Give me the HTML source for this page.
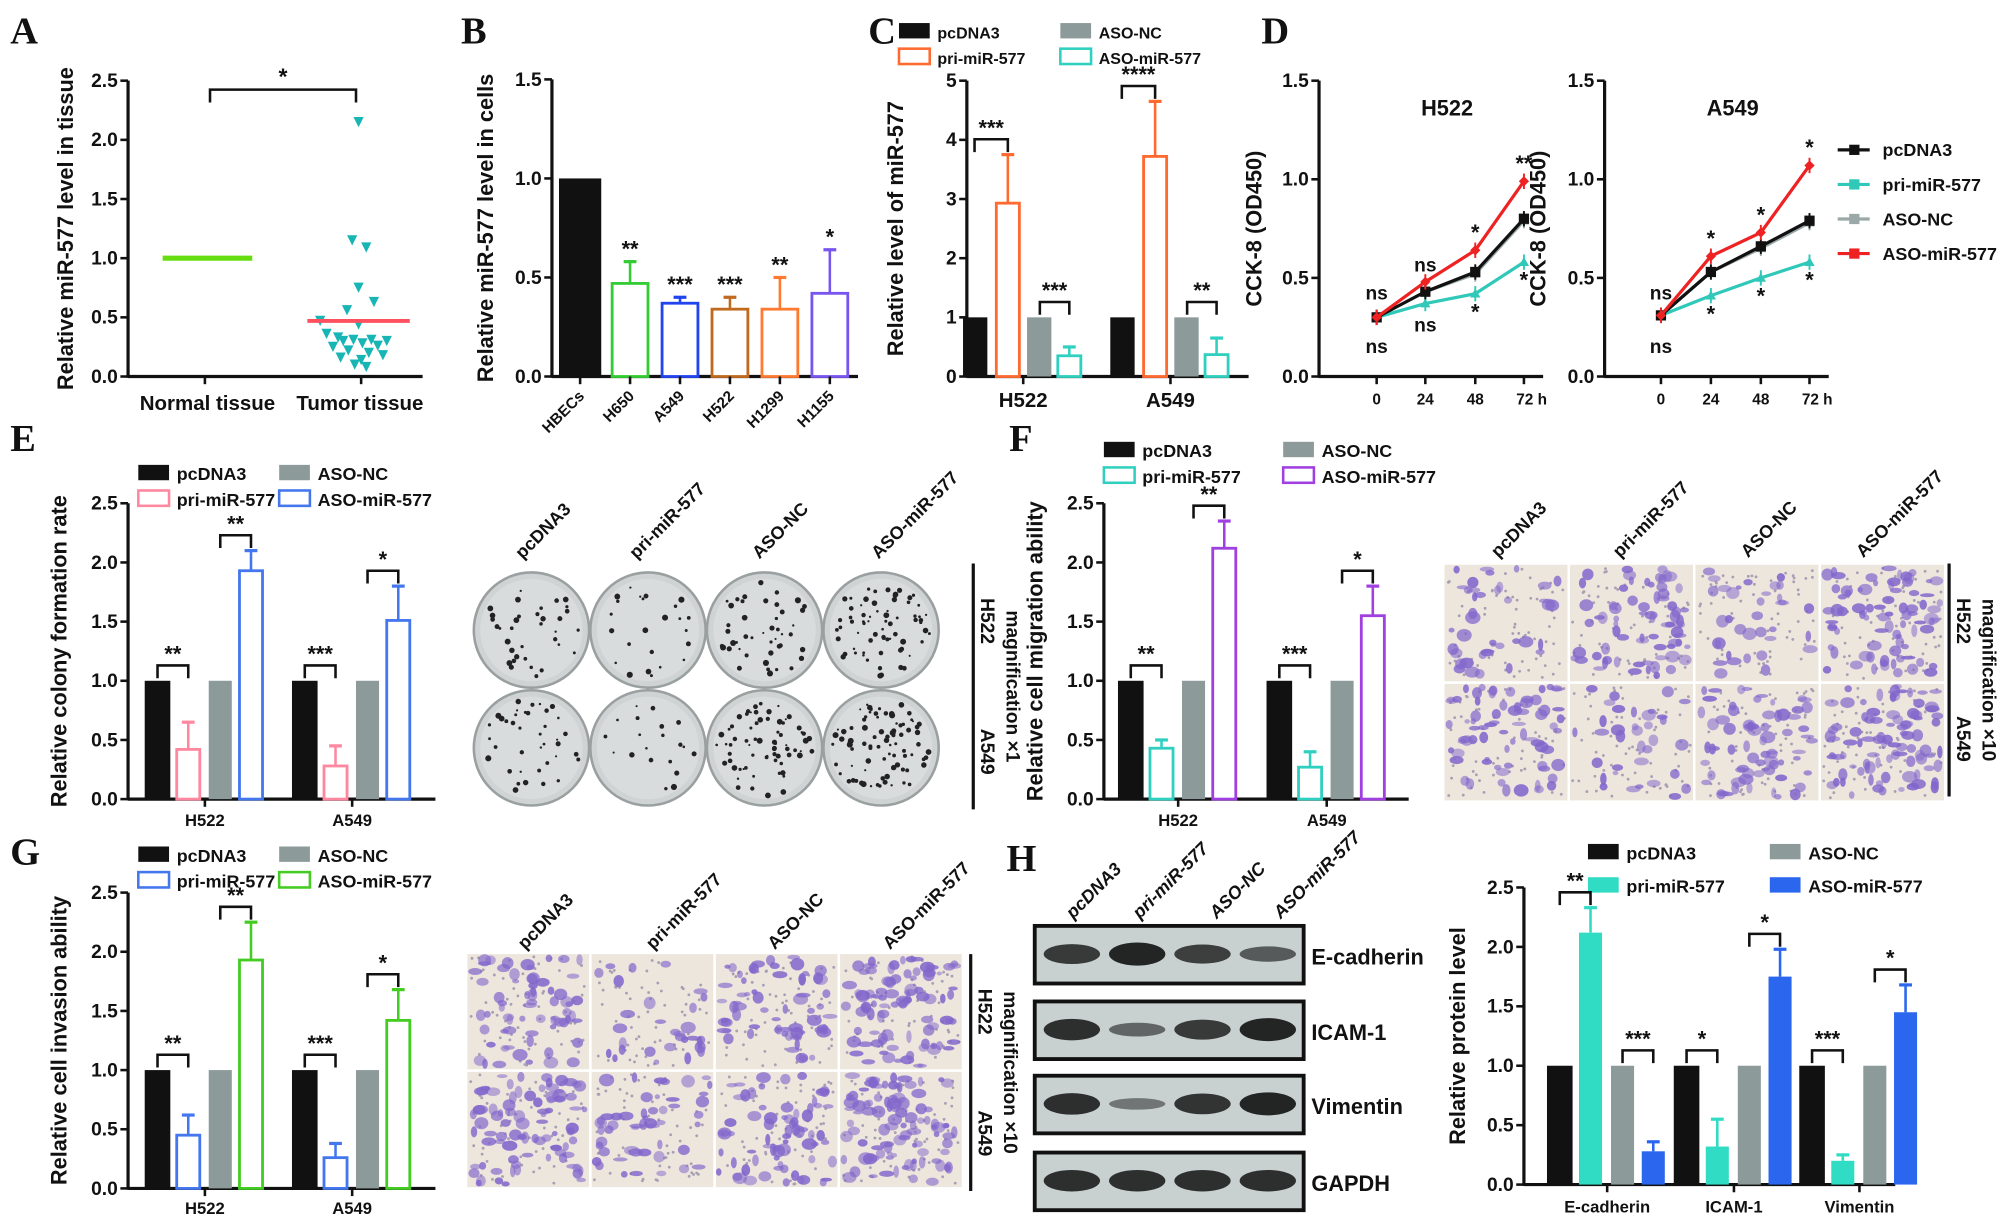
<!DOCTYPE html>
<html><head><meta charset="utf-8"><style>
html,body{margin:0;padding:0;background:#fff;}
svg{display:block;}
text{font-family:"Liberation Sans",sans-serif;font-weight:bold;fill:#111;}
.pl{font-family:"Liberation Serif",serif;font-size:30px;}
</style></head><body>
<svg id="fig" width="2008" height="1223" viewBox="0 0 1568 955" xmlns="http://www.w3.org/2000/svg"></svg>
<script>
// ---------- data ----------
const aTicks=["0.0","0.5","1.0","1.5","2.0","2.5"];
const aNormal=[1.0];
const aTumorMean=[0.47];
const aTumorPts=[2.15,1.15,1.09,0.75,0.63,0.56,0.47,0.44,0.36,0.33,0.31,0.31,0.30,0.30,0.28,0.26,0.25,0.22,0.20,0.18,0.16,0.14,0.10,0.08];
const bCats=["HBECs","H650","A549","H522","H1299","H1155"];
const bVals=[1.0,0.47,0.37,0.34,0.34,0.42];
const bErr=[1.0,0.58,0.40,0.40,0.50,0.64];
const bStars=["","**","***","***","**","*"];
const cCats=["H522","A549"];
const cPc=[1,1],cPri=[2.93,3.72],cPriE=[3.75,4.65],cNc=[1,1],cAso=[0.35,0.37],cAsoE=[0.5,0.65];
const dTimes=["0","24","48","72 h"];
const dH522={pc:[0.30,0.43,0.53,0.80],pri:[0.30,0.37,0.42,0.58],nc:[0.30,0.43,0.52,0.79],aso:[0.30,0.48,0.64,0.99]};
const dA549={pc:[0.31,0.53,0.66,0.79],pri:[0.31,0.41,0.50,0.58],nc:[0.31,0.53,0.65,0.78],aso:[0.31,0.61,0.73,1.07]};
const eCats=["H522","A549"];
const ePri=[0.42,0.28],ePriE=[0.65,0.45],eAso=[1.93,1.51],eAsoE=[2.1,1.8];
const fPri=[0.43,0.27],fPriE=[0.5,0.4],fAso=[2.12,1.55],fAsoE=[2.35,1.8];
const gPri=[0.45,0.26],gPriE=[0.62,0.38],gAso=[1.93,1.42],gAsoE=[2.25,1.68];
const hCats=["E-cadherin","ICAM-1","Vimentin"];
const hPri=[2.12,0.32,0.20],hPriE=[2.33,0.55,0.25],hAso=[0.28,1.75,1.45],hAsoE=[0.36,1.98,1.68];
// ---------- helpers ----------
const NS="http://www.w3.org/2000/svg";const svg=document.getElementById('fig');
function mk(tag,at,p){const e=document.createElementNS(NS,tag);for(const k in at)e.setAttribute(k,at[k]);(p||svg).appendChild(e);return e;}
function tx(x,y,s,size,extra,p){const e=mk('text',Object.assign({x:x,y:y,'font-size':size||14,'text-anchor':'middle'},extra||{}),p);e.textContent=s;return e;}
function lbl(x,y,s){const e=tx(x,y,s,30,{'class':'pl','text-anchor':'start'});}
function scale(y0,yTop,max){return v=>y0-(v/max)*(y0-yTop);}
function yaxis(x0,y0,yTop,x1,ticks,max,title,tx0,name){
  const g=mk('g',{});
  const s=scale(y0,yTop,max);
  mk('line',{x1:x0,y1:y0+1,x2:x0,y2:yTop,stroke:'#111','stroke-width':2.5},g);
  mk('line',{x1:x0,y1:y0,x2:x1,y2:y0,stroke:'#111','stroke-width':2.5},g);
  ticks.forEach((t,i)=>{const v=parseFloat(t);const y=s(v);mk('line',{x1:x0-6,y1:y,x2:x0,y2:y,stroke:'#111','stroke-width':2},g);tx(x0-8,y+5,t,15,{'text-anchor':'end'},g);});
  const tt=tx(tx0,(y0+yTop)/2,title,17,{transform:'rotate(-90 '+tx0+' '+(y0+yTop)/2+')'},g);
  
  return s;}
function bar(x,w,v,s,y0,fill,stroke,name){const r=mk('rect',{x:x,y:s(v),width:w,height:y0-s(v),fill:fill,stroke:stroke,'stroke-width':fill==='none'||fill==='#fff'?2.2:0});return r;}
function err(cx,v,e,s,col){mk('line',{x1:cx,y1:s(v),x2:cx,y2:s(e),stroke:col,'stroke-width':2});mk('line',{x1:cx-5,y1:s(e),x2:cx+5,y2:s(e),stroke:col,'stroke-width':2.5});}
function brk(xa,xb,y,st){mk('path',{d:`M${xa} ${y+10}V${y}H${xb}V${y+10}`,fill:'none',stroke:'#111','stroke-width':2});tx((xa+xb)/2,y-3,st,17);}
function legend(x,y,items,dx,dy,fs){items.forEach((it,i)=>{const xx=x+Math.floor(i/2)*dx,yy=y+(i%2)*dy;const r=mk('rect',{x:xx,y:yy-9,width:24,height:12,fill:it.f,stroke:it.c,'stroke-width':it.f==='#fff'?2:0});const t=tx(xx+30,yy+3,it.n,fs||14,{'text-anchor':'start'});});}
function grouped(name,x0,y0,yTop,xEnd,cats,starts,pri,priE,aso,asoE,priCol,asoCol,filled,title,titleX,stars,labY,bw){
  const s=yaxis(x0,y0,yTop,xEnd,["0.0","0.5","1.0","1.5","2.0","2.5"],2.5,title,titleX,name);
  bw=bw||20;
  cats.forEach((c,i)=>{const gx=starts[i];
    bar(gx,bw,1,s,y0,'#111','#111',name+'-bar-pcdna3-'+c.toLowerCase());
    const px=gx+bw+5;bar(px,bw-2,pri[i],s,y0,filled?priCol:'#fff',priCol,name+'-bar-pri-'+c.toLowerCase());err(px+(bw-2)/2,pri[i],priE[i],s,priCol);
    const nx=px+bw+5;bar(nx,bw-2,1,s,y0,'#8c9a9a','#8c9a9a',name+'-bar-nc-'+c.toLowerCase());
    const ax=nx+bw+4;bar(ax,bw-2,aso[i],s,y0,filled?asoCol:'#fff',asoCol,name+'-bar-aso-'+c.toLowerCase());err(ax+(bw-2)/2,aso[i],asoE[i],s,asoCol);
    brk(gx+bw/2,px+(bw-2)/2,s(Math.max(1,priE[i]))-12,stars[i][0]);
    brk(nx+(bw-2)/2,ax+(bw-2)/2,s(Math.max(1,asoE[i]))-12,stars[i][1]);
    const cx=gx+2*bw+7;mk('line',{x1:cx,y1:y0,x2:cx,y2:y0+6,stroke:'#111','stroke-width':2});
    const t=tx(cx,labY,c,13);
  });return s;}
// ---------- Panel A ----------
lbl(8,34,'A');
{const s=yaxis(100,294,63,330,aTicks,2.5,'Relative miR-577 level in tissue',57,'panel-a');
 mk('line',{x1:160,y1:294,x2:160,y2:300,stroke:'#111','stroke-width':2});mk('line',{x1:282,y1:294,x2:282,y2:300,stroke:'#111','stroke-width':2});
 tx(162,320,'Normal tissue',16);tx(281,320,'Tumor tissue',16);
 const gl=mk('line',{x1:127,x2:197,y1:s(aNormal[0]),y2:s(aNormal[0]),stroke:'#66dd11','stroke-width':4});
 const offs=[0,-5,6,0,12,-9,-30,0,-25,-16,-4,10,22,-12,3,15,-20,-8,8,19,-14,2,-3,6];
 aTumorPts.forEach((v,i)=>{const x=280+offs[i],y=s(v);const p=mk('path',{d:`M${x-4} ${y-4}H${x+4}L${x} ${y+4}Z`,fill:'#18b5b5'});});
 const rl=mk('line',{x1:240,x2:320,y1:s(aTumorMean[0]),y2:s(aTumorMean[0]),stroke:'#ff5060','stroke-width':3});
 brk(164,278,70,'');tx(221,66,'*',18);}
// ---------- Panel B ----------
lbl(360,34,'B');
{const s=yaxis(431,294,62,670,["0.0","0.5","1.0","1.5"],1.5,'Relative miR-577 level in cells',385,'panel-b');
 const cols=['#111','#33cc33','#2244ee','#c06a20','#ff7a30','#7755ee'];
 bCats.forEach((c,i)=>{const cx=453+i*39;const w=i?28:33;
   bar(cx-w/2,w,bVals[i],s,294,i?'#fff':'#111',cols[i],'panel-b-bar-'+c.toLowerCase());
   if(i){err(cx,bVals[i],bErr[i],s,cols[i]);tx(cx,s(bErr[i])-4,bStars[i],17);}
   mk('line',{x1:cx,y1:294,x2:cx,y2:300,stroke:'#111','stroke-width':2});
   const t=tx(cx+4,310,c,12,{'text-anchor':'end',transform:`rotate(-45 ${cx+4} 310)`});});}
// ---------- Panel C ----------
lbl(678,34,'C');
legend(702,27,[{n:'pcDNA3',f:'#111',c:'#111'},{n:'pri-miR-577',f:'#fff',c:'#ff6a30'},{n:'ASO-NC',f:'#8c9a9a',c:'#8c9a9a'},{n:'ASO-miR-577',f:'#fff',c:'#30d0c0'}],126,20,12.5);
{const s=yaxis(755,294,63,975,["0","1","2","3","4","5"],5,'Relative level of miR-577',705,'panel-c');
 const st=[['***','***'],['****','**']];
 cCats.forEach((c,i)=>{const gx=[752,867][i];
  bar(gx,19,cPc[i],s,294,'#111','#111','panel-c-bar-pcdna3-'+c.toLowerCase());
  bar(gx+26,18,cPri[i],s,294,'#fff','#ff6a30','panel-c-bar-pri-'+c.toLowerCase());err(gx+35,cPri[i],cPriE[i],s,'#ff6a30');
  bar(gx+50,19,cNc[i],s,294,'#8c9a9a','#8c9a9a','panel-c-bar-nc-'+c.toLowerCase());
  bar(gx+74,18,cAso[i],s,294,'#fff','#30d0c0','panel-c-bar-aso-'+c.toLowerCase());err(gx+83,cAso[i],cAsoE[i],s,'#30d0c0');
  brk(gx+9,gx+35,s(cPriE[i])-12,st[i][0]);brk(gx+60,gx+83,s(Math.max(1,cAsoE[i]))-12,st[i][1]);
  mk('line',{x1:gx+47,y1:294,x2:gx+47,y2:300,stroke:'#111','stroke-width':2});
  const t=tx(gx+47,318,c,16);});}
// ---------- Panel D ----------
lbl(985,34,'D');
function cck(name,x0,xs,d,title,tX,starsTop,starsBot){
  const s=yaxis(x0,294,63,x0+175,["0.0","0.5","1.0","1.5"],1.5,'CCK-8 (OD450)',tX,name);
  tx(x0+100,90,title,17);
  dTimes.forEach((t,i)=>{mk('line',{x1:xs[i],y1:294,x2:xs[i],y2:300,stroke:'#111','stroke-width':2});tx(xs[i]+(i==3?6:0),316,t,12);});
  const ser=[['nc','#9aa8a8','tri'],['pri','#30c8b8','tri'],['pc','#111','sq'],['aso','#ee2222','dia']];
  ser.forEach(([k,c,m])=>{const pts=d[k].map((v,i)=>xs[i]+','+s(v)).join(' ');
    const pl=mk('polyline',{points:pts,fill:'none',stroke:c,'stroke-width':2.5});
    d[k].forEach((v,i)=>{const x=xs[i],y=s(v);
      if(m==='sq')mk('rect',{x:x-4,y:y-4,width:8,height:8,fill:c});else if(m==='dia')mk('path',{d:`M${x} ${y-4}L${x+4} ${y}L${x} ${y+4}L${x-4} ${y}Z`,fill:c});else mk('path',{d:`M${x-4} ${y+3}H${x+4}L${x} ${y-4}Z`,fill:c});
      mk('line',{x1:x,y1:y-6,x2:x,y2:y+6,stroke:c,'stroke-width':1.5});});});
  starsTop.forEach((st,i)=>{if(st)tx(xs[i+1],s(d.aso[i+1])-8,st,st==='ns'?15:17);});
  starsBot.forEach((st,i)=>{if(st)tx(xs[i+1],s(d.pri[i+1])+(st==='ns'?22:20),st,st==='ns'?15:17);});
  tx(xs[0],s(0.3)-14,'ns',15);tx(xs[0],s(0.3)+28,'ns',15);}
cck('panel-d-h522',1030,[1075,1113,1152,1190],dH522,'H522',985,['ns','*','**'],['ns','*','*']);
cck('panel-d-a549',1253,[1297,1336,1375,1413],dA549,'A549',1207,['*','*','*'],['*','*','*']);
[['pcDNA3','#111'],['pri-miR-577','#30c8b8'],['ASO-NC','#9aa8a8'],['ASO-miR-577','#ee2222']].forEach(([n,c],i)=>{const y=117+i*27;
 mk('line',{x1:1435,y1:y,x2:1460,y2:y,stroke:c,'stroke-width':2.5});mk('rect',{x:1444,y:y-4,width:8,height:8,fill:c});
 const t=tx(1470,y+5,n,14,{'text-anchor':'start'});});
// ---------- plates / microscopy helpers ----------
function colLabels(xs,y,names,italic){names.forEach((n,i)=>{const t=tx(xs[i],y,n,14,{'text-anchor':'start',transform:`rotate(-45 ${xs[i]} ${y})`,'font-style':italic?'italic':'normal'});});}
const conds=['pcDNA3','pri-miR-577','ASO-NC','ASO-miR-577'];
function sideLabels(x,y1,y2,mag){mk('line',{x1:x,y1:y1,x2:x,y2:y2,stroke:'#111','stroke-width':2.5});
 const m=(y1+y2)/2;tx(x+10,y1+45,'H522',15,{transform:`rotate(90 ${x+10} ${y1+45})`,'dominant-baseline':'middle'});
 tx(x+10,y2-45,'A549',15,{transform:`rotate(90 ${x+10} ${y2-45})`,'dominant-baseline':'middle'});
 const t=tx(x+30,m,mag,15,{transform:`rotate(90 ${x+30} ${m})`,'dominant-baseline':'middle'});}
let seed=7;function rnd(){seed=(seed*16807)%2147483647;return seed/2147483647;}
function micro(x0,y0,w,h,dens,name){const g=mk('g',{});
 mk('rect',{x:x0,y:y0,width:w,height:h,fill:'#ede6dc'},g);
 for(let k=0;k<60;k++)mk('circle',{cx:x0+2+rnd()*(w-4),cy:y0+2+rnd()*(h-4),r:1.1,fill:'#a7a0b4'},g);
 for(let k=0;k<dens;k++){const rx=2+rnd()*4,ry=1.5+rnd()*3.5;mk('ellipse',{cx:x0+rx+rnd()*(w-2*rx),cy:y0+ry+rnd()*(h-2*ry),rx:rx,ry:ry,fill:'#8266cc',opacity:0.5+rnd()*0.4},g);}}
function microGrid(x0,y0,cw,ch,dens,name){for(let r=0;r<2;r++)for(let c=0;c<4;c++)micro(x0+c*(cw+2),y0+r*(ch+2),cw,ch,dens[r][c],name+'-'+conds[c].toLowerCase()+'-'+(r?'a549':'h522'));}
// ---------- Panel E ----------
lbl(8,352,'E');
legend(108,372,[{n:'pcDNA3',f:'#111',c:'#111'},{n:'pri-miR-577',f:'#fff',c:'#ff88a0'},{n:'ASO-NC',f:'#8c9a9a',c:'#8c9a9a'},{n:'ASO-miR-577',f:'#fff',c:'#4477ee'}],110,20,14);
grouped('panel-e',100,624,393,340,eCats,[113,228],ePri,ePriE,eAso,eAsoE,'#ff88a0','#4477ee',false,'Relative colony formation rate',52,[['**','**'],['***','*']],645);
for(let r=0;r<2;r++)for(let c=0;c<4;c++){const cx=415+c*91,cy=492+r*92;const g=mk('g',{});
 mk('circle',{cx:cx,cy:cy,r:45,fill:'#cfd3d3',stroke:'#9aa0a0','stroke-width':2},g);mk('circle',{cx:cx,cy:cy,r:40,fill:'#d9dcdc'},g);
 const n=[[35,25,45,70],[40,20,70,85]][r][c];for(let k=0;k<n;k++){const a=rnd()*6.28,d=Math.sqrt(rnd())*38;mk('circle',{cx:cx+Math.cos(a)*d,cy:cy+Math.sin(a)*d,r:0.8+rnd()*1.6,fill:'#222'},g);}}
colLabels([408,497,593,686],437,conds,false);
sideLabels(760,440,632,'magnification ×1');
// ---------- Panel F ----------
lbl(788,352,'F');
legend(862,354,[{n:'pcDNA3',f:'#111',c:'#111'},{n:'pri-miR-577',f:'#fff',c:'#30d0c0'},{n:'ASO-NC',f:'#8c9a9a',c:'#8c9a9a'},{n:'ASO-miR-577',f:'#fff',c:'#a040e0'}],140,20,14);
grouped('panel-f',862,624,393,1100,eCats,[873,989],fPri,fPriE,fAso,fAsoE,'#30d0c0','#a040e0',false,'Relative cell migration ability',814,[['**','**'],['***','*']],645);
microGrid(1128,441,96,91,[[40,70,35,80],[70,35,70,90]],'migration-image');
colLabels([1170,1265,1365,1455],436,conds,false);
sideLabels(1522,440,622,'magnification ×10');
// ---------- Panel G ----------
lbl(8,675,'G');
legend(108,670,[{n:'pcDNA3',f:'#111',c:'#111'},{n:'pri-miR-577',f:'#fff',c:'#4477ee'},{n:'ASO-NC',f:'#8c9a9a',c:'#8c9a9a'},{n:'ASO-miR-577',f:'#fff',c:'#44cc22'}],110,20,14);
grouped('panel-g',100,928,697,340,eCats,[113,228],gPri,gPriE,gAso,gAsoE,'#4477ee','#44cc22',false,'Relative cell invasion ability',52,[['**','**'],['***','*']],948);
microGrid(365,745,95,90,[[65,30,65,90],[85,50,70,95]],'invasion-image');
colLabels([410,510,605,695],742,conds,false);
sideLabels(758,745,930,'magnification ×10');
// ---------- Panel H ----------
lbl(786,680,'H');
[['E-cadherin',[0.8,1.0,0.75,0.5]],['ICAM-1',[0.9,0.4,0.8,1.0]],['Vimentin',[0.9,0.25,0.85,1.0]],['GAPDH',[0.9,0.9,0.9,0.9]]].forEach(([n,b],r)=>{
 const y=[723,782,840,900][r];const g=mk('g',{});
 mk('rect',{x:808,y:y,width:210,height:45,fill:'#c8d0d0',stroke:'#111','stroke-width':3},g);
 b.forEach((v,i)=>{mk('ellipse',{cx:837+i*51,cy:y+22,rx:22,ry:3+6*v,fill:'#1a1a1a',opacity:0.35+0.6*v},g);});
 tx(1024,y+30,n,17,{'text-anchor':'start'});});
colLabels([838,890,950,1000],718,conds,true);
legend(1240,668,[{n:'pcDNA3',f:'#111',c:'#111'},{n:'pri-miR-577',f:'#30dcc4',c:'#30dcc4'},{n:'ASO-NC',f:'#8c9a9a',c:'#8c9a9a'},{n:'ASO-miR-577',f:'#2a66ee',c:'#2a66ee'}],142,26,14);
grouped('panel-h',1190,925,693,1480,hCats,[1208,1307,1405],hPri,hPriE,hAso,hAsoE,'#30dcc4','#2a66ee',true,'Relative protein level',1144,[['**','***'],['*','*'],['***','*']],947,20);
</script>
</body></html>
